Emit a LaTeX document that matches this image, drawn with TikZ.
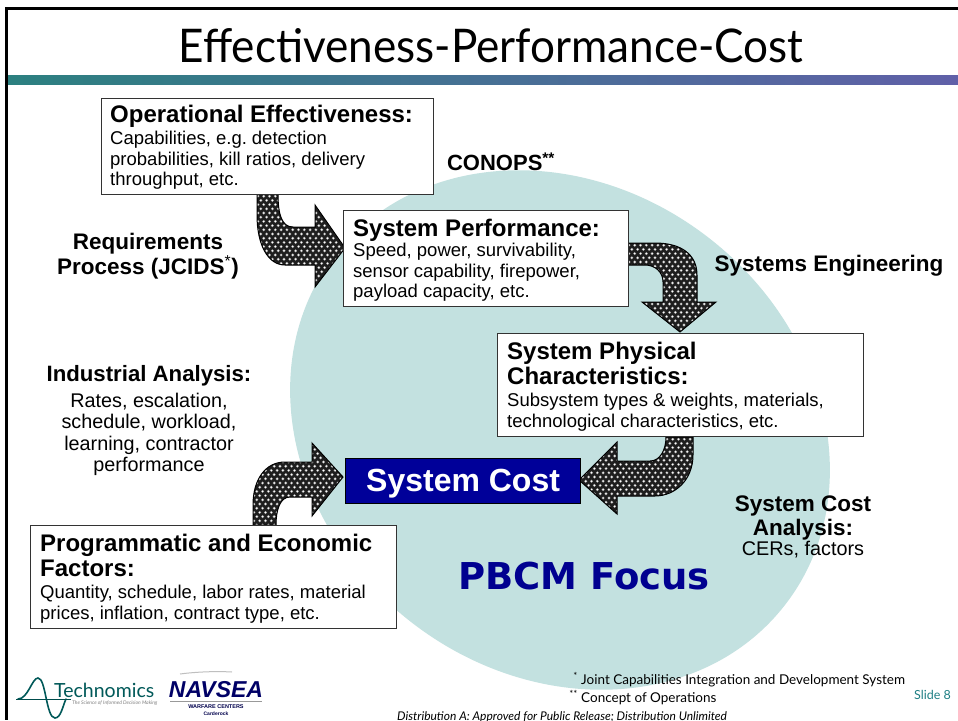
\documentclass[tikz,border=0pt]{standalone}
\usepackage{fontspec}
\setmainfont{Liberation Sans}
\newfontfamily\gill{Lato}
\newfontfamily\gilltitle[FakeStretch=0.95]{Lato}
\newfontfamily\vrd{DejaVu Sans}
\usetikzlibrary{shadings}
\definecolor{tealc}{HTML}{C3E1E0}
\definecolor{navy}{HTML}{000099}
\definecolor{pbcm}{HTML}{000090}
\definecolor{barL}{HTML}{2C8080}
\definecolor{barR}{HTML}{6060A8}
\definecolor{slidec}{HTML}{1F7F84}
\definecolor{dkarrow}{HTML}{1E1E1E}
% #1,#2 top-left corner of the arrow's box, #3 columns, #4 rows
\newcommand{\dotgrid}[4]{%
  \fill[dkarrow] (#1,#2) rectangle ++(#3*5.8+6,#4*4.2+6);
  \foreach \i in {0,...,#3}{
    \foreach \j in {0,...,#4}{
      \pgfmathsetmacro{\xx}{#1+\i*5.8+mod(\j,2)*2.9}
      \pgfmathsetmacro{\yy}{#2+\j*4.2}
      \fill[gray!80] (\xx,\yy) circle (1.6);
      \fill[white] (\xx,\yy) circle (0.85);
    }}}
\tikzset{
  x=1pt,y=-1pt,
  boxn/.style={draw=black!80,line width=1.4pt,fill=white,anchor=north west,inner sep=0pt,minimum height=0pt},
  lab/.style={align=center,inner sep=0pt,font=\fontsize{22.5}{25}\selectfont\bfseries},
  sub/.style={align=center,inner sep=0pt,font=\fontsize{19.8}{21.3}\selectfont},
  txt/.style={anchor=north west,inner sep=0pt,align=left},
  arr/.style={draw=black,line width=1pt,line join=miter},
}
\newcommand{\hd}[1]{{\fontsize{24}{25}\selectfont\bfseries\spaceskip=.278em\relax #1\par}}
\newcommand{\bd}[2][20.5]{{\fontsize{18.5}{#1}\selectfont\spaceskip=.278em\relax #2\par}}
\begin{document}
\begin{tikzpicture}
\useasboundingbox (0,0) rectangle (958,720);
\fill[white] (0,0) rectangle (958,720);
% big ellipse
\fill[tealc] (560,430) ellipse [x radius=285,y radius=243,rotate=-38];
% frame
\fill[black] (5,7) rectangle (958,10);
\fill[black] (5,7) rectangle (8,720);
\shade[left color=barL,right color=barR] (8,75) rectangle (958,84);
\node[font=\gilltitle\fontsize{46.4}{50}\selectfont,inner sep=0pt] (title) at (491,46) {Effectiveness-Performance-Cost};
% block arrows
\def\arrowA{(257,194) -- (257,215) .. controls (257,245) and (268,265) .. (285,265) -- (315,265) -- (315,287) -- (345,248) -- (315,205) -- (315,227) -- (293,227) .. controls (282,227) and (278,215) .. (278,194) -- cycle}
\def\arrowB{(628,243) -- (655,243) .. controls (682,243) and (697,255) .. (697,275) -- (697,302) -- (716,302) -- (680,332) -- (642,302) -- (663,302) -- (663,282) .. controls (663,272) and (655,265) .. (645,265) -- (628,265) -- cycle}
\def\arrowC{(253,525) -- (253,505) .. controls (253,480) and (265,462) .. (285,462) -- (312,462) -- (312,443) -- (343,477) -- (312,516) -- (312,497) -- (290,497) .. controls (280,497) and (276,510) .. (276,525) -- cycle}
\def\arrowD{(693,437) -- (693,455) .. controls (693,480) and (675,496) .. (655,496) -- (617,496) -- (617,514) -- (579,480) -- (617,442) -- (617,461) -- (650,461) .. controls (660,461) and (666,450) .. (666,437) -- cycle}
\begin{scope}\clip \arrowA; \dotgrid{255}{192}{17}{23}\end{scope}\draw[arr] \arrowA;
\begin{scope}\clip \arrowB; \dotgrid{626}{241}{17}{22}\end{scope}\draw[arr] \arrowB;
\begin{scope}\clip \arrowC; \dotgrid{251}{441}{17}{20}\end{scope}\draw[arr] \arrowC;
\begin{scope}\clip \arrowD; \dotgrid{577}{435}{21}{19}\end{scope}\draw[arr] \arrowD;
% boxes
\node[boxn,minimum width=332pt,minimum height=96pt] (eff) at (101,98) {};
\node[txt,text width=320pt] (efft) at (110,105) {\hd{Operational Effectiveness:}\vspace{1.5pt}\bd{Capabilities, e.g. detection\\probabilities, kill ratios, delivery\\throughput, etc.}};
\node[boxn,minimum width=285pt,minimum height=96pt] (perf) at (343,210) {};
\node[txt,text width=270pt] (perft) at (353,218.5) {\hd{System Performance:}\bd{Speed, power, survivability,\\sensor capability, firepower,\\payload capacity, etc.}};
\node[boxn,minimum width=366pt,minimum height=103pt] (phys) at (497,333) {};
\node[txt,text width=350pt] (physt) at (507,342) {\hd{System Physical\\Characteristics:}\vspace{1pt}\bd[21]{Subsystem types \& weights, materials,\\technological characteristics, etc.}};
\node[draw=black,line width=1.2pt,fill=navy,anchor=north west,minimum width=235pt,minimum height=45pt,inner sep=0pt,text=white,font=\fontsize{32}{33}\selectfont\bfseries] (cost) at (345,458) {\raisebox{-10.5pt}[0pt][0pt]{System Cost}};
\node[boxn,minimum width=366pt,minimum height=103pt] (prog) at (30,525) {};
\node[txt,text width=350pt] (progt) at (40,534) {\hd{Programmatic and Economic\\Factors:}\vspace{1pt}\bd[21]{Quantity, schedule, labor rates, material\\prices, inflation, contract type, etc.}};
% labels
\node[lab,font=\fontsize{22}{25}\selectfont\bfseries] (conops) at (501,162) {CONOPS\textsuperscript{**}};
\node[lab] (req) at (148,256) {Requirements\\Process (JCIDS\textsuperscript{\normalfont*})};
\node[lab] (sys) at (829,266) {Systems Engineering};
\node[lab,font=\fontsize{22.2}{25}\selectfont\bfseries] (ind) at (149,376) {Industrial Analysis:};
\node[sub,anchor=north] (indb) at (149,393) {Rates, escalation,\\schedule, workload,\\learning, contractor\\performance};
\node[lab,anchor=north,font=\fontsize{22.5}{24}\selectfont\bfseries] (sca) at (803,496) {System Cost\\Analysis:};
\node[sub] (cer) at (803,550) {CERs, factors};
\node[font=\vrd\fontsize{37}{40}\selectfont\bfseries,text=pbcm,inner sep=0pt] (focus) at (584,576) {PBCM Focus};
% footnotes
\node[anchor=east,inner sep=0pt,font=\gill\fontsize{13.5}{16}\selectfont] (st1) at (578,679) {\textsuperscript{*}};
\node[anchor=east,inner sep=0pt,font=\gill\fontsize{13.5}{16}\selectfont] (st2) at (578,697) {\textsuperscript{**}};
\node[anchor=west,inner sep=0pt,font=\gill\fontsize{13.5}{16}\selectfont] (fn1) at (581,681) {Joint Capabilities Integration and Development System};
\node[anchor=west,inner sep=0pt,font=\gill\fontsize{13.5}{16}\selectfont] (fn2) at (581,699) {Concept of Operations};
\node[anchor=west,inner sep=0pt,font=\gill\fontsize{12.5}{14}\selectfont,text=slidec] (slide) at (914,695) {Slide 8};
\node[anchor=west,inner sep=0pt,font=\gill\itshape\fontsize{12}{14}\selectfont] (dist) at (397,717) {Distribution A: Approved for Public Release; Distribution Unlimited};
% Technomics logo
\draw[line width=1.6pt,teal!70!black,line cap=round] (18,699) .. controls (28,699) and (32,678) .. (38,678) .. controls (46,678) and (46,718) .. (55,718) .. controls (61,718) and (63,705) .. (66,699);
\draw[line width=.8pt,teal!60!black] (16,699) -- (71,699);
\node[anchor=west,inner sep=0pt,font=\gill\fontsize{19.5}{21}\selectfont,text=teal!70!black] (tech) at (54,690) {Technomics};
\node[anchor=west,inner sep=0pt,font=\gill\itshape\fontsize{5}{6}\selectfont,text=black!50] (sci) at (72,703) {The Science of Informed Decision Making};
% NAVSEA logo
\draw[line width=1pt,black!25] (180,674) .. controls (195,672) and (215,671) .. (232,672);
\node[anchor=center,inner sep=0pt,font=\fontsize{23}{24}\selectfont\bfseries\itshape,text=blue!40!black] (nav) at (216,690) {NAVSEA};
\draw[line width=.6pt,black!40] (170,701) -- (262,701);
\node[inner sep=0pt,font=\fontsize{5.5}{6}\selectfont\bfseries,text=blue!30!black] (wc) at (216,706.5) {WARFARE CENTERS};
\node[inner sep=0pt,font=\fontsize{5}{6}\selectfont\bfseries,text=blue!30!black] (cd) at (216,714) {Carderock};
\end{tikzpicture}
\end{document}
